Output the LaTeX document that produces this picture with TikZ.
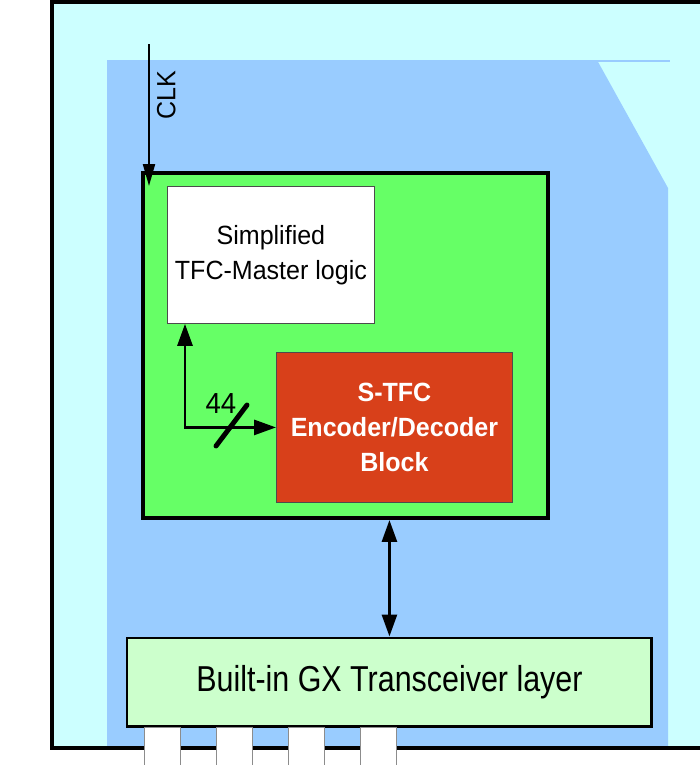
\documentclass[tikz,border=0pt]{standalone}
\usepackage{fontspec}
\setmainfont{Liberation Sans}
\usetikzlibrary{arrows.meta,positioning,calc}

\definecolor{shellcyan}{HTML}{CCFFFF}
\definecolor{fpgablue}{HTML}{99CCFF}
\definecolor{coregreen}{HTML}{66FF66}
\definecolor{codecred}{HTML}{D8401A}
\definecolor{gxgreen}{HTML}{CCFFCC}

\begin{document}
\begin{tikzpicture}[
  x=0.02cm, y=-0.02cm,
  >={Triangle[length=4.4mm, width=3mm]},
  core/.style={draw=black, line width=2.3pt, fill=coregreen, minimum width=8.1cm, minimum height=6.9cm, anchor=north west},
  logic/.style={draw=black!70, line width=0.5pt, fill=white, minimum width=4.14cm, minimum height=2.74cm, anchor=north west, align=center, font=\fontsize{15}{19.9}\selectfont\addfontfeature{FakeStretch=0.95}},
  codec/.style={draw=black!70, line width=0.5pt, fill=codecred, text=white, minimum width=4.72cm, minimum height=3cm, anchor=north west, align=center, font=\fontsize{15}{20.2}\selectfont\bfseries\addfontfeature{FakeStretch=0.95}},
  layer/.style={draw=black, line width=1.7pt, fill=gxgreen, minimum width=10.5cm, minimum height=1.78cm, anchor=north west, font=\fontsize{20.5}{22}\selectfont\addfontfeature{FakeStretch=0.845}},
  pin/.style={draw=black!45, line width=0.5pt, fill=white},
  sig/.style={line width=1.6pt}
]

%% ============ Background: board and FPGA outline ============
\clip (0,0) rectangle (700,765);
\fill[shellcyan] (52,2) rectangle (760,748);
\fill[fpgablue] (107,60) -- (597,60) -- (668,188) -- (668,748) -- (107,748) -- cycle;
\draw[fpgablue, line width=0.6pt] (597,61) -- (670,61);
\draw[line width=2.3pt] (52,2) rectangle (760,748);

%% ============ Blocks ============
\node[core]  (core)   at (141,171)     {};
\node[logic] (master) at (167,186)     {Simplified\\TFC-Master logic};
\node[codec] (stfc)   at (276,352)     {S-TFC\\Encoder/Decoder\\Block};
\node[layer] (gx)     at (125.5,636.5) {Built-in GX Transceiver layer};

%% transceiver pins below the layer
\foreach \px in {144,216,288,360}
  \draw[pin] (\px,727) rectangle ++(36,45);

%% ============ Signals ============
\coordinate (clktop) at (149,44);
\draw[line width=1.2pt, -{Triangle[length=4.4mm, width=2.4mm]}] (clktop) --
  node[pos=0.36, rotate=90, anchor=north, inner sep=4pt, font=\fontsize{15}{15}\selectfont\addfontfeature{FakeStretch=0.95}] (clk) {CLK}
  (clktop |- master.north);

%% 44-bit bus between master logic and the codec
\coordinate (bus) at (185,427);
\draw[sig, <->] (bus |- master.south) |- (stfc.west);
\draw[line width=2.8pt, line cap=round] ($(bus)+(31,19)$) -- ($(bus)+(62,-22)$);
\node[font=\fontsize{16.5}{16.5}\selectfont\addfontfeature{FakeStretch=0.95}] (buswidth) at (221,404) {44};

%% core <-> transceiver layer
\draw[sig, <->] (gx.north |- core.south) -- (gx.north);

\end{tikzpicture}
\end{document}
